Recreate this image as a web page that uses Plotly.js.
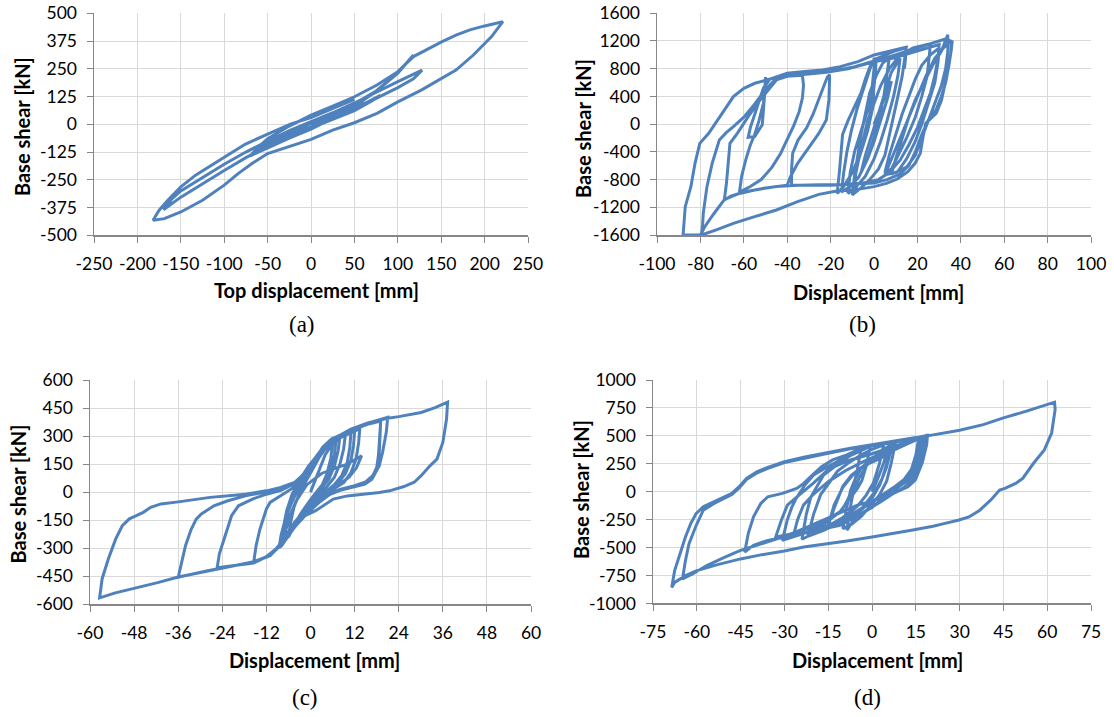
<!DOCTYPE html>
<html><head><meta charset="utf-8">
<script src="https://cdn.plot.ly/plotly-3.0.1.min.js"></script>
<style>html,body{margin:0;padding:0;background:#fff}#chart{width:1114px;height:717px}</style>
</head><body><div id="chart"></div>
<script>
// ---------- Panel (a): top displacement [mm] vs base shear [kN]
const dispA = [0,25,50,65,80,
 70,50,25,0,-25,-50,-70,
 -55,-40,-20,0,25,50,75,100,118,
 110,100,75,50,25,0,-25,-50,-75,-100,-125,-150,-170,
 -160,-150,-125,-100,-75,-50,-25,0,25,50,75,100,128,
 118,100,75,50,25,0,-25,-50,-70,
 -60,-50,-25,0,25,50,76,100,118,139,151,167,183,200,214,221,
 208,187,167,151,127,100,76,50,25,0,-27,-50,-68,-84,-100,-125,-150,-169,-182,
 -175,-165,-150,-133,-100,-76,-50,-23,0,25,50];
const shearA = [0,35,75,100,131,
 105,62,22,-18,-55,-95,-140,
 -100,-70,-32,5,45,92,150,232,312,
 275,230,148,80,30,-12,-52,-98,-150,-208,-268,-328,-385,
 -335,-300,-240,-180,-125,-75,-28,12,52,96,145,192,244,
 205,165,115,68,28,-22,-62,-108,-142,
 -100,-65,-8,41,82,124,177,237,305,350,372,402,425,443,455,462,
 395,312,244,207,154,101,49,7,-26,-68,-102,-132,-177,-222,-274,-342,-395,-425,-432,
 -387,-342,-282,-229,-150,-90,-44,2,30,70,112];

// ---------- Panel (b)
const dispB = [0,4,8,6,3,0,-3,-6,
 -4,-1,2,5,8,12,
 11,9,6,3,0,-4,-8,-12,
 -11,-9,-6,-3,-1,0,0,
 0,-0.5,-3,-6,-10,-14,-17,
 -16,-15,-14.5,-12,-9,-6,-4,-2,0,5,10,14.8,
 14,13,11,9,7,5,2,-2,-6,-10,
 -9,-7.5,-6,-4,-2,1,4,7,
 6,4.5,2.5,0,-3,-7,-11,-15,
 -14,-12.5,-10.5,-8,-5.5,-3,-1,1,
 0.5,-0.5,-2.5,-5,-8,-9.5,
 -9,-7,-5,-3,0,3,7,12,18,26,
 25.5,24.5,22,19,15,11,8,5,
 7,10,13,16,19,22,26,30,
 29.5,28,25,22,19,15,11,8,
 10,13,16,19,23,27,31,34,
 34,33,31,28,25,22,19,15,10,5,
 8,12,16,20,24,28,32,35.5,
 35.5,34.5,33,31,28.5,25,22,19,16,12,6,0,-10,-20,-30,-38,
 -38,-37.5,-35,-31,-28,-25,-23,-21.5,-20.5,
 -20.5,-20.8,-22,-25.4,-28.7,-32,-35.2,-38.5,-40,-50,-60,-66,-69,
 -68,-67,-66.4,-63,-58,-52.5,-48,-45,-40,-33,
 -32.5,-33,-34.5,-37,-40,-43,-47,-52,-57,-62,
 -61,-59,-57,-55,-53,-51,-50,-50,
 -50.5,-51.5,-55,-58,
 -57,-55,-53,-51,-48,-40,-30,-20,-10,-2,2,8,15,22,28,33,36,
 35.6,34.4,32.8,31.1,28.7,25.4,23.8,22.5,21.3,18.9,15.6,10.7,5.7,0,-7.4,-17.2,-25.4,-35.2,-45,-55,-64.8,-73,-79.5,
 -79,-78.7,-77,-74.6,-71.3,-68,-64.8,-60,-56,-53,-50,-46,-40,-30,-22,-12,-5,0,5,10,14,20,26,30,
 29.5,28,26,23,20,16,12,7,2,-5,-15,-25,-35,-45,-55,-63,-69,-74,-78,-80,-88,
 -87,-84.4,-82.5,-80.3,-76.2,-73,-68,-64.8,-60,-54.9,-48.4,-40,-32,-23.8,-15.6,-7.4,0,9,14.8,14.5,14];
const shearB = [0,300,620,350,50,-250,-500,-700,
 -450,-150,150,450,750,950,
 700,400,50,-250,-500,-750,-900,-1000,
 -700,-400,-100,200,500,800,960,
 600,250,-100,-400,-700,-900,-1000,
 -700,-400,-150,50,250,450,650,820,930,1000,1060,1100,
 950,700,400,100,-200,-450,-650,-800,-920,-1020,
 -750,-450,-150,150,450,700,880,950,
 700,400,100,-200,-500,-760,-900,-980,
 -700,-400,-100,200,450,700,880,950,
 700,400,50,-300,-600,-980,
 -800,-500,-200,50,300,550,800,1000,1100,1160,
 1000,700,400,100,-200,-450,-650,-700,
 -450,-150,150,400,650,850,1000,1100,
 900,600,300,0,-250,-500,-680,-720,
 -500,-200,100,350,600,850,1050,1290,
 1050,800,550,300,50,-200,-450,-620,-700,-730,
 -500,-200,100,400,700,950,1100,1200,
 1050,850,600,400,200,60,-150,-400,-600,-720,-800,-850,-870,-880,-880,-880,
 -650,-420,-230,-50,150,380,560,680,712,
 640,350,60,-130,-277,-421,-565,-758,-880,-920,-980,-1040,-1095,
 -850,-550,-277,-132,109,349,520,638,690,705,
 560,380,180,-20,-220,-420,-620,-800,-900,-980,
 -750,-500,-300,-150,50,300,500,680,
 400,-10,-180,-190,
 -50,150,350,520,650,720,740,760,820,900,930,980,1050,1120,1180,1230,1190,
 1071,830,590,349,157,60,12,-200,-421,-565,-686,-792,-854,-902,-941,-965,-1013,-1119,-1239,-1335,-1432,-1528,-1600,
 -1450,-1287,-902,-565,-229,-120,-36,100,250,380,500,630,700,725,750,800,860,900,930,960,1000,1060,1120,1150,
 950,700,450,200,-50,-300,-520,-700,-800,-850,-870,-875,-880,-900,-950,-1010,-1090,-1300,-1480,-1600,-1600,
 -1191,-902,-565,-277,-132,13,254,397,517,590,647,734,758,782,830,902,998,1070,1109,950,800];

// ---------- Panel (c)
const dispC = [0,2,4,6,
 5.5,4.5,3,1,-1,-3,-5,-6,
 -5.5,-4.5,-3,-1.5,0,2,4,8,
 7.5,6.5,5,3,1,-1.5,-4,-6,-7.5,
 -7,-6,-4.5,-2.5,-0.5,2,5,9.5,
 9,8,6.5,4.5,2,-0.5,-3,-5.5,-8,
 -7.5,-6.5,-5,-2.5,0,3,6,11,
 10.7,10,8.5,6.5,4,1,-2,-5,-8.1,
 -7.5,-6,-4,-2,0.5,3.3,5.7,8.6,11,13.4,
 13.1,12.4,11,9.1,6.2,4.3,1.4,-1.4,-4.3,-6.7,-8.3,
 -6,-4,-1,3,7,10,13.9,
 12.5,10.5,8,5,2,-1,-4,-6.5,-8,
 -7,-5.5,-3.5,-1.5,0.5,2.5,4.5,7,
 6.5,5.5,4,2,0,-2.5,-5,-7,-8.6,
 -8,-6.8,-5,-3,-1,1.5,4,8,12,
 11.7,11,9.5,7.5,5,2.5,0,-3,-6,-8,
 -7.5,-6,-4,-1.4,0.5,3.3,6.2,11,15.8,19.1,
 18.8,18.5,18,17,15,12,8,5,2,-1,-4,-7,-9,-11,-13.9,-15.5,
 -14.8,-13.8,-12.9,-12,-11,-8.1,-5,-3,-1,1,3.5,6.5,11,15.8,21,
 20.6,19.6,18.7,16.7,14.8,11,7,4,1.5,-1,-4,-7,-9.5,-12,-14.5,-16,-20,-25.4,
 -24.8,-23.4,-22.2,-21.5,-19.6,-15.8,-12,-8,-5,-2.5,0,3,6.5,11,15.8,19.1,
 19,18.7,18.2,17,15,12,8,5,2,-1,-4,-7,-9.5,-12,-15,-22,-28,-36,
 -34,-32.5,-31.1,-29.7,-26.3,-22.5,-17.7,-12,-8,-4.3,-1.5,0.5,3.3,6.2,11,15.8,20.6,24,30.1,33.9,37.3,
 37,36,34.4,32.5,30.1,28.2,25.4,21.5,18.7,14.8,10,6.2,3.3,1.4,-1.5,-4.3,-7.2,-9.1,-11,-13.9,-15.8,-22.5,-27.3,-36,-41.6,-48,-53.1,-57.4,
 -56.7,-55,-53,-51.2,-49.3,-47.4,-45.5,-43.5,-40.7,-36,-27.3,-17.7,-12,-8.1,-4.3,-1.4,0.5,3.3];
const shearC = [0,100,200,260,
 180,100,30,-30,-80,-140,-200,-240,
 -170,-80,0,70,130,190,240,300,
 220,140,70,20,-30,-90,-170,-230,-275,
 -190,-90,0,80,140,200,260,310,
 230,150,80,30,-20,-80,-150,-220,-290,
 -200,-100,-10,80,150,230,280,320,
 240,160,90,40,0,-50,-120,-200,-290,
 -200,-80,20,90,150,240,284,310,318,340,
 266,177,105,52,16,-2,-37,-90,-161,-232,-295,
 -150,-50,40,100,130,150,195,
 130,80,45,10,-40,-100,-170,-240,-290,
 -220,-120,-30,50,120,190,245,285,
 200,120,60,10,-40,-110,-190,-250,-300,
 -230,-140,-50,30,100,170,230,290,328,
 250,170,100,50,15,-20,-70,-140,-220,-280,
 -200,-80,20,88,141,225,280,330,365,381,
 300,200,130,80,50,30,10,-15,-60,-110,-180,-250,-300,-340,-362,-380,
 -285,-200,-144,-90,-55,-20,20,60,110,170,230,280,335,370,400,
 319,213,142,69,43,25,5,-25,-70,-115,-180,-250,-305,-345,-370,-380,-392,-405,
 -330,-250,-170,-126,-73,-37,-11,10,40,85,140,220,285,335,372,384,
 300,210,140,90,55,35,15,-10,-55,-105,-175,-250,-305,-345,-372,-398,-420,-455,
 -285,-200,-144,-117,-73,-46,-20,2,16,48,95,145,230,284,337,372,394,404,426,452,482,
 390,266,177,141,88,53,30,7,-2,-11,-20,-37,-73,-99,-126,-179,-250,-303,-339,-362,-374,-401,-419,-454,-484,-516,-539,-566,
 -463,-356,-250,-179,-143,-126,-108,-81,-63,-52,-28,-11,7,25,52,88,141,230];

// ---------- Panel (d)
const dispD = [0,2,4,6,
 5,3.5,1,-2,-5,-7,-8.6,
 -7.5,-6.5,-4.5,-2,1,4,8,
 6.5,5,2.5,0,-3.7,-7,-10,
 -8.5,-7.3,-5.5,-3.7,-1,1.7,4,7,
 5,2.6,0,-3.2,-7,-12,-17,-22,
 -20,-17.6,-14.5,-11.8,-8,-3.7,0,4,
 2.5,0.5,-2,-5,-10,-16,-24,
 -22.5,-21,-18.5,-16.6,-13,-10,-6.5,-3.7,
 -5,-6.5,-8.5,-10.4,-14,-17,-22,-30.7,
 -29,-27.5,-26,-23,-20,-15.5,-11,-6,-0.6,
 -2,-3.5,-5,-8,-11,-16,-22,-28,-33,
 -31,-29,-25,-20,-15,-8,0,9,18,
 17,15.5,13,10,5,0,-6,-11,-15,
 -13,-10,-6,-1,4,8,12,16,
 15,13.5,11,7,2,-4,-10,-18,-27,
 -25.5,-23.5,-20,-15,-9,-3,4,11,17,
 16,14.5,12,8,3,-3,-9,-13,-15,
 -13,-10,-7,-3,3,8,13,19,
 18.5,17.5,16,14,11,7,3,-2,-8,-11,-16,-23.4,-29.5,-35.7,-40.6,-43.6,
 -42.4,-40.6,-38.1,-35.7,-30.7,-25.8,-23.4,-21,-17.3,-13.5,-8.6,-3.7,0,7.4,15,19,
 18.7,17.2,14.8,12.3,8.6,4.9,1.2,-5,-12,-20,-26,-30.7,-38.1,-45,-50.4,-56.6,-61.5,-64.9,
 -63.9,-62.7,-60.2,-59,-57.8,-54.1,-50.4,-48,-45.5,-43,-39.3,-35.7,-30,-23.4,-15,-7.4,0,7.4,15,19,25.8,30,38.1,45,52.9,60,62.5,
 62.7,61.5,59,55.3,51.6,49.2,45.5,43.7,40.6,36.9,33.2,29.5,24.6,20.9,13.5,7.4,0,-8.6,-15,-23.4,-30,-38.1,-45,-52.9,-60,-63.9,-67.6,-68.6,
 -67.6,-65.8,-63.9,-62.1,-60.2,-57.8,-54.1,-50.4,-48,-45.5,-43,-39.3,-35.7,-30,-23.4,-15,-7.4,0,7.4,15];
const shearD = [0,120,260,430,
 250,120,0,-100,-200,-280,-345,
 -150,-10,120,230,315,380,440,
 250,95,-30,-110,-220,-290,-330,
 -120,15,130,210,280,325,370,435,
 220,60,-60,-150,-220,-290,-350,-400,
 -200,-25,90,185,260,330,380,420,
 250,80,-30,-130,-230,-320,-425,
 -200,-50,70,150,220,280,340,400,
 200,30,-80,-170,-240,-300,-360,-435,
 -250,-140,-60,60,150,220,280,340,405,
 230,100,30,-80,-180,-260,-330,-380,-405,
 -250,-120,-30,80,200,280,340,420,490,
 350,200,110,60,-30,-140,-230,-290,-300,
 -120,40,170,260,330,400,450,480,
 330,200,110,30,-60,-160,-250,-330,-400,
 -250,-120,-20,90,190,270,350,430,480,
 340,210,120,50,-40,-140,-230,-280,-300,
 -150,50,150,230,300,380,440,510,
 420,300,190,100,40,-20,-90,-170,-260,-300,-330,-375,-405,-435,-480,-540,
 -375,-225,-105,-45,-15,30,75,135,225,285,330,390,411,440,480,505,
 420,260,105,45,0,-45,-75,-120,-200,-290,-360,-405,-465,-525,-586,-661,-736,-781,
 -616,-466,-300,-225,-165,-105,-55,-25,35,110,170,210,262,300,345,385,415,445,480,500,532,550,601,661,721,781,802,
 736,526,375,255,120,75,30,15,-75,-165,-225,-255,-285,-309,-345,-375,-405,-441,-465,-495,-531,-565,-601,-652,-706,-751,-811,-856,
 -706,-556,-405,-285,-195,-135,-90,-45,-15,45,120,180,219,270,309,351,390,420,450,486];

// ---------- Tick values and labels
const xTicksA = [-250,-200,-150,-100,-50,0,50,100,150,200,250];
const xLabelsA = ['-250','-200','-150','-100','-50','0','50','100','150','200','250'];
const yTicksA = [-500,-375,-250,-125,0,125,250,375,500];
const yLabelsA = ['-500','-375','-250','-125','0','125','250','375','500'];
const xTicksB = [-100,-80,-60,-40,-20,0,20,40,60,80,100];
const xLabelsB = ['-100','-80','-60','-40','-20','0','20','40','60','80','100'];
const yTicksB = [-1600,-1200,-800,-400,0,400,800,1200,1600];
const yLabelsB = ['-1600','-1200','-800','-400','0','400','800','1200','1600'];
const xTicksC = [-60,-48,-36,-24,-12,0,12,24,36,48,60];
const xLabelsC = ['-60','-48','-36','-24','-12','0','12','24','36','48','60'];
const yTicksC = [-600,-450,-300,-150,0,150,300,450,600];
const yLabelsC = ['-600','-450','-300','-150','0','150','300','450','600'];
const xTicksD = [-75,-60,-45,-30,-15,0,15,30,45,60,75];
const xLabelsD = ['-75','-60','-45','-30','-15','0','15','30','45','60','75'];
const yTicksD = [-1000,-750,-500,-250,0,250,500,750,1000];
const yLabelsD = ['-1000','-750','-500','-250','0','250','500','750','1000'];

const xTitles = ['Top displacement [mm]','Displacement [mm]','Displacement [mm]','Displacement [mm]'];
const yTitle = 'Base shear [kN]';
const panelLabels = ['(a)','(b)','(c)','(d)'];

const FONT = 'Lato, "Open Sans", sans-serif';
const LINE = '#4F81BD';

function axis(domain, ticks, labels, anchor) {
  return {
    domain: domain, range: [ticks[0], ticks[ticks.length-1]], anchor: anchor,
    tickmode: 'array', tickvals: ticks, ticktext: labels,
    showgrid: true, gridcolor: '#d9d9d9', gridwidth: 1, zeroline: false,
    showline: true, linecolor: '#878787', linewidth: 1.5,
    ticks: 'outside', ticklen: 6, tickwidth: 1, tickcolor: '#878787',
    ticklabelstandoff: 6,
    tickfont: {family: FONT, size: 17.5, color: '#000'}, fixedrange: true
  };
}
function trace(x, y, xa, ya) {
  return {x: x, y: y, xaxis: xa, yaxis: ya, type: 'scatter', mode: 'lines',
    line: {color: LINE, width: 3}, hoverinfo: 'skip', showlegend: false};
}

const data = [
  trace(dispA, shearA, 'x', 'y'),
  trace(dispB, shearB, 'x2', 'y2'),
  trace(dispC, shearC, 'x3', 'y3'),
  trace(dispD, shearD, 'x4', 'y4')
];

const titleFont = {family: FONT, size: 20, color: '#000', weight: 'bold'};
const labelFont = {family: '"Liberation Serif", "Times New Roman", serif', size: 23, color: '#000'};
function ann(text, x, y, font, angle) {
  return {text: text, x: x, y: y, xref: 'paper', yref: 'paper', showarrow: false,
    xanchor: 'center', yanchor: 'middle', font: font, textangle: angle || 0};
}

const layout = {
  width: 1114, height: 717, margin: {l: 0, r: 0, t: 0, b: 0},
  paper_bgcolor: '#fff', plot_bgcolor: '#fff', showlegend: false,
  xaxis:  axis([0.0844, 0.4740], xTicksA, xLabelsA, 'y'),
  yaxis:  axis([0.6718, 0.9815], yTicksA, yLabelsA, 'x'),
  xaxis2: axis([0.5898, 0.9794], xTicksB, xLabelsB, 'y2'),
  yaxis2: axis([0.6722, 0.9815], yTicksB, yLabelsB, 'x2'),
  xaxis3: axis([0.0808, 0.4767], xTicksC, xLabelsC, 'y3'),
  yaxis3: axis([0.1572, 0.4700], yTicksC, yLabelsC, 'x3'),
  xaxis4: axis([0.5862, 0.9794], xTicksD, xLabelsD, 'y4'),
  yaxis4: axis([0.1583, 0.4700], yTicksD, yLabelsD, 'x4'),
  annotations: [
    ann(xTitles[0], 0.2837, 0.5955, titleFont),
    ann(xTitles[1], 0.7890, 0.5927, titleFont),
    ann(xTitles[2], 0.2819, 0.0795, titleFont),
    ann(xTitles[3], 0.7873, 0.0795, titleFont),
    ann(yTitle, 0.0198, 0.8229, titleFont, -90),
    ann(yTitle, 0.5233, 0.8215, titleFont, -90),
    ann(yTitle, 0.0166, 0.3110, titleFont, -90),
    ann(yTitle, 0.5215, 0.3180, titleFont, -90),
    ann(panelLabels[0], 0.2711, 0.5481, labelFont),
    ann(panelLabels[1], 0.7738, 0.5481, labelFont),
    ann(panelLabels[2], 0.2738, 0.0265, labelFont),
    ann(panelLabels[3], 0.7783, 0.0265, labelFont)
  ]
};

Plotly.newPlot('chart', data, layout, {staticPlot: true, displayModeBar: false});
</script>
</body></html>
